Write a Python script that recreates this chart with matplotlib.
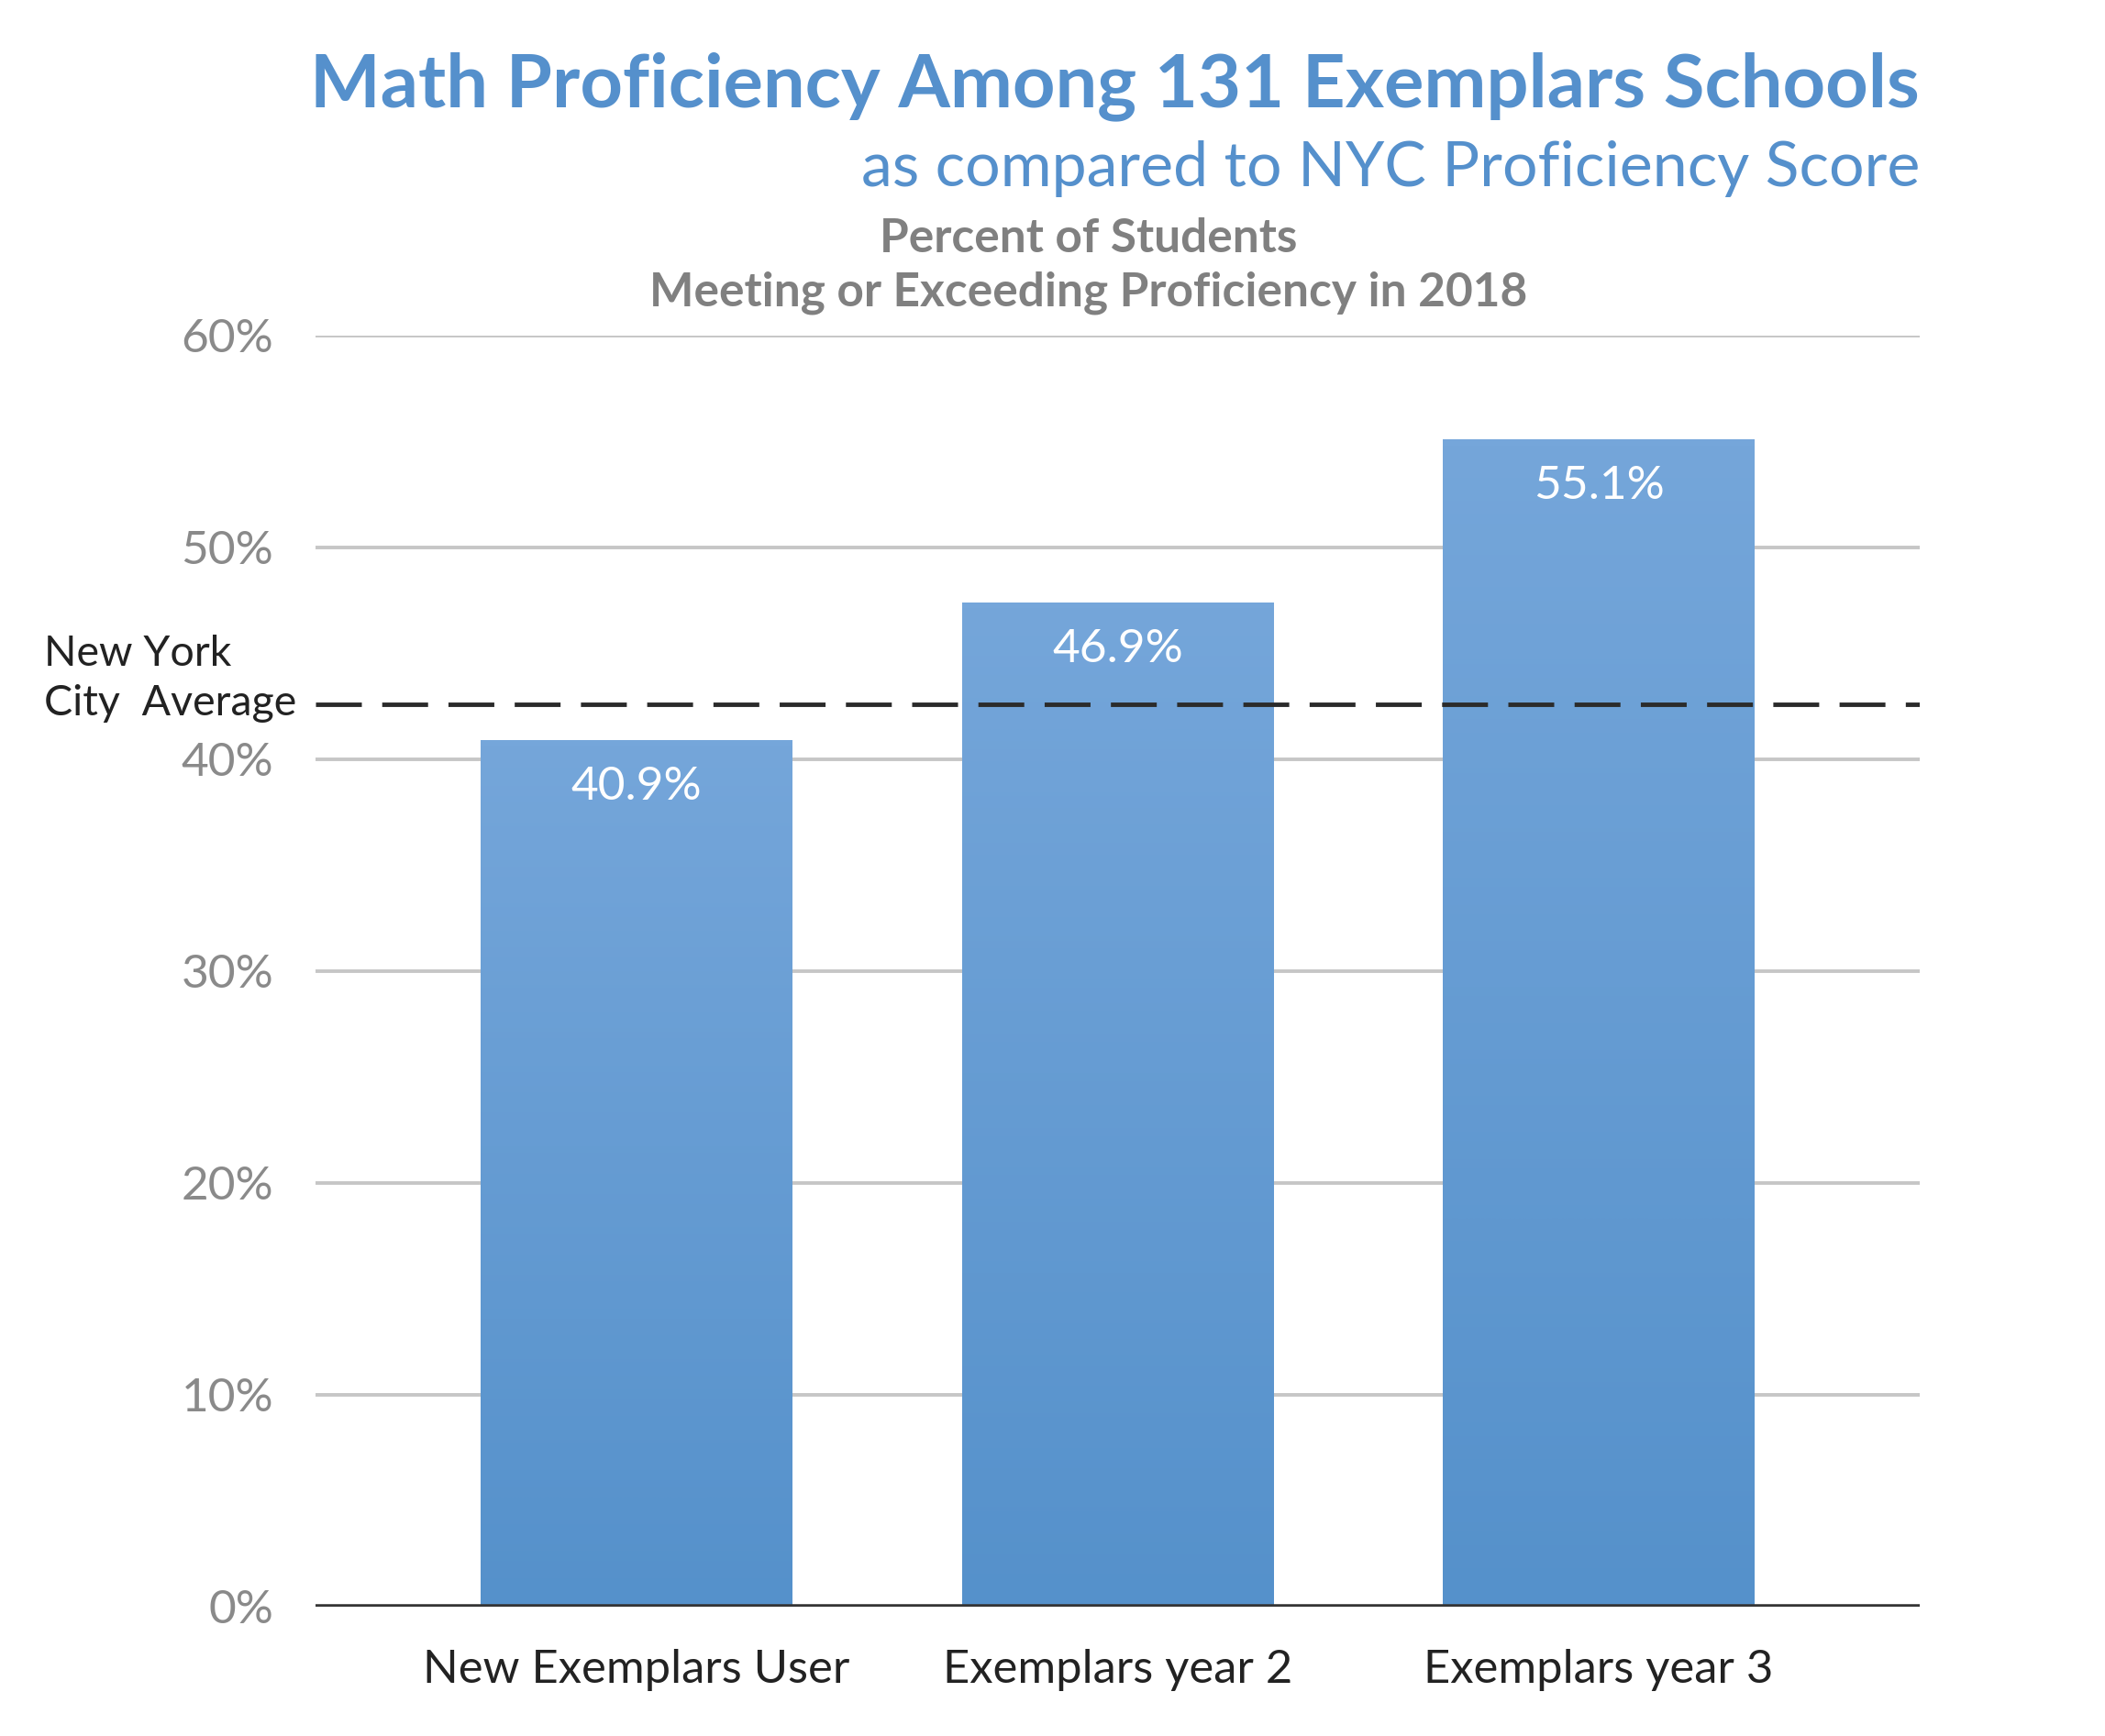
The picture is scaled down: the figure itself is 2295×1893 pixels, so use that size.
import matplotlib
matplotlib.use("Agg")
import matplotlib.pyplot as plt
import numpy as np
from matplotlib.colors import LinearSegmentedColormap

categories = ["New Exemplars User", "Exemplars year 2", "Exemplars year 3"]
bar_heights = [40.9, 47.4, 55.1]
bar_labels = ["40.9%", "46.9%", "55.1%"]
nyc_average = 42.6
yticks = [0, 10, 20, 30, 40, 50, 60]
ytick_labels = ["0%", "10%", "20%", "30%", "40%", "50%", "60%"]

plt.rcParams['font.family'] = ['Lato', 'DejaVu Sans']
plt.rcParams['lines.scale_dashes'] = False

fig = plt.figure(figsize=(22.95, 18.93), dpi=100)
ax = fig.add_axes([0.1499, 0.0745, 0.912 - 0.1499, 0.8067 - 0.0745])

x = np.arange(len(categories))
bars = ax.bar(x, bar_heights, width=0.647, color='none', edgecolor='none', zorder=3)

cmap = LinearSegmentedColormap.from_list("g", ["#5591cb", "#75a6da"])
grad = np.linspace(0, 1, 256).reshape(-1, 1)
for b in bars:
    x0, w, h = b.get_x(), b.get_width(), b.get_height()
    im = ax.imshow(grad, extent=[x0, x0 + w, 0, h], origin='lower', cmap=cmap,
                   aspect='auto', zorder=3, interpolation='bicubic')
    im.set_clip_path(b)

for xi, h, lab in zip(x, bar_heights, bar_labels):
    ax.annotate(lab, (xi, h), xytext=(0, -20), textcoords='offset points',
                ha='center', va='top', color='white', fontsize=37, zorder=5)

ax.set_xlim(-0.667, 2.667)
ax.set_ylim(0, 60)
ax.set_yticks(yticks)
ax.set_yticklabels(ytick_labels)
ax.set_xticks(x)
ax.set_xticklabels(categories)
ax.tick_params(axis='y', length=0, pad=33, labelsize=37, labelcolor='#8a8a8a')
ax.tick_params(axis='x', length=0, pad=33, labelsize=36.5, labelcolor='#222222')

for yv in yticks[1:]:
    ax.axhline(yv, color='#c6c6c6', lw=2.8, zorder=1)
ax.axhline(0, color='#353535', lw=4, zorder=4)

ax.axhline(nyc_average, color='#2b2b2b', lw=3.5, dashes=(36, 16), zorder=4)

for s in ax.spines.values():
    s.set_visible(False)

fig.text(0.021, 0.6234, "New York", ha='left', va='center', fontsize=33.5, color='#222222')
fig.text(0.021, 0.5948, "City  Average", ha='left', va='center', fontsize=33.5, color='#222222')

fig.text(0.912, 0.950, "Math Proficiency Among 131 Exemplars Schools", ha='right', va='center',
         fontsize=58.5, fontweight='bold', color='#5590cc')
fig.text(0.912, 0.903, "as compared to NYC Proficiency Score", ha='right', va='center',
         fontsize=49, color='#5590cc')
fig.text(0.517, 0.8624, "Percent of Students", ha='center', va='center',
         fontsize=37, fontweight='bold', color='#808080')
fig.text(0.517, 0.8314, "Meeting or Exceeding Proficiency in 2018", ha='center', va='center',
         fontsize=37, fontweight='bold', color='#808080')

fig.savefig("out.png", dpi=100)
